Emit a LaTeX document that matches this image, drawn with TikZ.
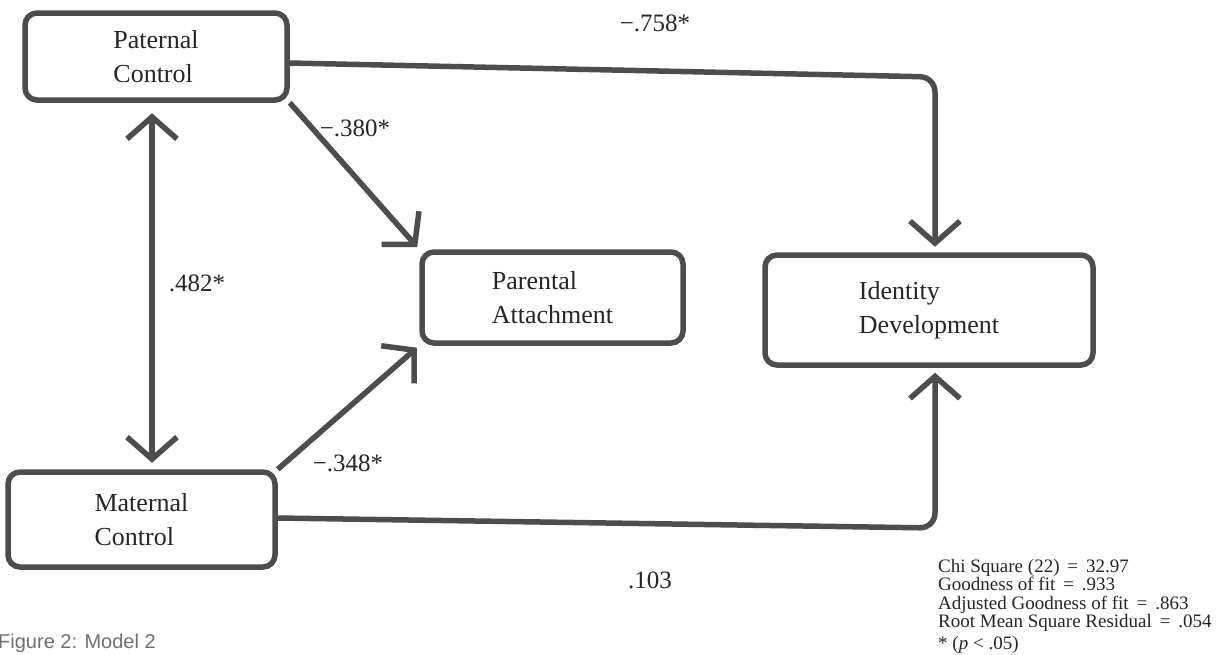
\documentclass[tikz,border=0pt]{standalone}
\usepackage{fontspec}
\setmainfont{Liberation Serif}
\setsansfont{Liberation Sans}
\usetikzlibrary{arrows.meta}
\definecolor{ink}{HTML}{4D4D4D}
\definecolor{txt}{HTML}{262626}
\definecolor{capgray}{HTML}{707070}
\begin{document}
\begin{tikzpicture}[x=1pt,y=-1pt,
  box/.style={draw=ink, line width=5.5pt, rounded corners=12pt, fill=white, inner sep=0pt,
    align=left, text=txt, font=\fontsize{26}{34}\selectfont},
  conn/.style={draw=ink, line width=5.5pt},
  tipend/.style={-{Straight Barb[length=22pt,width=50pt]}},
  tipboth/.style={{Straight Barb[length=22pt,width=50pt]}-{Straight Barb[length=22pt,width=50pt]}},
  lbl/.style={font=\fontsize{25}{30}\selectfont, text=txt, inner sep=0pt},
  stat/.style={font=\fontsize{19}{18.5}\selectfont, text=txt, inner sep=0pt, align=left}
]
\useasboundingbox (0,0) rectangle (1227,654);
\clip (0,0) rectangle (1227,654);
\fill[white] (0,0) rectangle (1227,654);

% boxes
\node[box, minimum width=262pt, minimum height=87pt] (pat) at (156,56.5) {Paternal\\Control};
\node[box, minimum width=267pt, minimum height=95pt] (mat) at (141.5,519.5) {Maternal\\Control};
\node[box, minimum width=261pt, minimum height=91pt] (att) at (552.5,297.5) {Parental\\Attachment};
\node[box, minimum width=328pt, minimum height=110pt] (idt) at (929,310) {Identity\\Development};

% helper coordinates
\coordinate (vx) at (152,0);
\coordinate (c1) at (935,77);
\coordinate (c2) at (935,528);

% connectors
\draw[conn, tipboth, shorten <=10.5pt, shorten >=6.5pt] (pat.south -| vx) -- (mat.north -| vx);
\draw[conn, tipend, rounded corners=15pt, shorten >=5.5pt] ([yshift=-6.5pt]pat.east) -- (c1) -- (c1 |- idt.north);
\draw[conn, tipend, shorten >=3pt] (pat.south east) -- (att.north west);
\draw[conn, tipend, shorten >=3pt] (mat.north east) -- (att.south west);
\draw[conn, tipend, rounded corners=15pt, shorten >=5pt] ([yshift=1.5pt]mat.east) -- (c2) -- (c2 |- idt.south);

% path labels
\node[lbl] (l758) at (655,23) {−.758*};
\node[lbl] (l380) at (355,128) {−.380*};
\node[lbl] (l482) at (197,283) {.482*};
\node[lbl] (l348) at (348,463) {−.348*};
\node[lbl] (l103) at (650,580) {.103};

% fit statistics
\node[stat, anchor=north west] (stats) at (938,559) {Chi Square (22)\,\ =\,\ 32.97\\Goodness of fit\,\ =\,\ .933\\Adjusted Goodness of fit\,\ =\,\ .863\\Root Mean Square Residual\,\ =\,\ .054};
\node[stat, anchor=north west] (sig) at (938,636) {* (\textit{p} < .05)};

% caption
\node[font=\sffamily\fontsize{20}{20}\selectfont, text=capgray, inner sep=0pt, anchor=base west] (cap) at (-2,648) {Figure 2: Model 2};
\end{tikzpicture}
\end{document}
